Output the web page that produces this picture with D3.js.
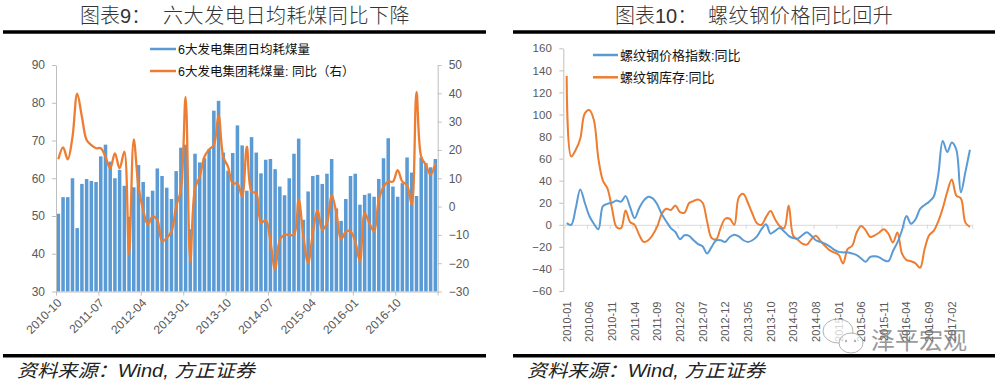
<!DOCTYPE html>
<html><head><meta charset="utf-8">
<script src="https://cdn.jsdelivr.net/npm/d3@7"></script>
<style>
body{margin:0;background:#fff;}
svg{display:block;}
text{font-family:Arial,"Liberation Sans","Noto Sans CJK SC",sans-serif;}
</style></head><body>
<svg id="c" width="996" height="383"></svg>
<script>
// ---------- DATA ----------
// Chart 9: six power groups daily coal consumption (bars, left axis) and YoY (line, right axis)
const leftStart = [2010, 10];
const leftCount = 81;
const coalDaily = [50.6,55.0,55.0,60.0,46.8,58.5,59.8,59.3,59.0,65.8,
  68.9,64.4,60.0,62.2,58.0,49.8,57.6,63.5,59.0,55.1,
  56.7,62.6,60.6,57.5,54.5,61.9,68.1,68.9,46.5,66.5,
  64.2,65.3,67.7,77.9,80.5,66.8,62.0,66.7,74.0,68.7,
  56.7,70.9,66.8,61.3,64.9,65.1,62.4,57.8,55.5,60.0,
  66.5,70.5,49.0,56.5,60.6,60.9,58.5,61.2,65.1,52.0,
  48.7,54.5,60.6,61.2,53.0,55.6,56.0,55.1,59.8,65.3,
  70.6,57.8,55.1,58.7,65.5,61.5,55.3,65.5,64.0,62.9,
  65.1];
const coalYoY = [16.7,20.9,16.7,24.6,39.9,31.7,23.5,21.7,20.6,20.6,
  17.6,13.5,18.8,13.5,19.4,-17.0,23.7,7.0,-1.2,-6.4,
  -3.5,-4.7,-12.3,-11.1,-8.8,0,5.9,38.7,-19.4,6.5,
  10.6,17.6,20.2,21.7,32.3,17.6,14.1,8.2,8.2,3.5,
  21.2,5.3,4.7,-5.8,-4.7,-12.3,-22.3,-11.7,-10,-10,
  -10,2.4,-10.6,-19.9,-9.4,-1.2,-8.2,-5.8,4.1,-2.3,
  -11.7,-8.8,-8.8,-12.3,-19.4,-2.3,-5.8,-8.8,2.4,7.0,
  8.8,8.8,12.9,8.8,7.6,0.6,40.5,17.6,14.7,11.2,
  15.3];
const leftXLabels = ["2010-10","2011-07","2012-04","2013-01","2013-10","2014-07","2015-04","2016-01","2016-10"];
const leftYTicks = [30,40,50,60,70,80,90];
const rightYTicks = [-30,-20,-10,0,10,20,30,40,50];
const leftSeriesNames = ["6大发电集团日均耗煤量","6大发电集团耗煤量: 同比（右）"];

// Chart 10: rebar price index YoY and rebar inventory YoY
const rightStart = [2010, 1];
const rightCount = 90;
const rebarPrice = [1.5,0,15,32,20,8,1,-4,17,19,
  20,22,21,26,16,6,15,22,25.5,24,
  18.5,9.5,3,-3,-6.5,-13,-9.5,-10,-14,-17.5,
  -19.5,-26,-20,-14,-14,-15.5,-11,-9,-10.5,-14,
  -15.5,-14,-10.5,-4,0.5,-8,-5.5,-3,-6,-10,
  -12,-12.5,-9.5,-6.7,-10,-14,-15.5,-17,-19.5,-22.5,
  -24.5,-25,-25,-26,-27.5,-30.5,-33.5,-29,-28.5,-29.5,
  -32,-33,-24,-16,-5,8,1,5,14.5,18,
  21,25.5,45,76,66,74.5,68,29.5,48,68];
const rebarStock = [135,62,68,78,101,104,95,60,40,33,
  15,-2,-3,13,2.5,0,-9,-15.5,-14,-9,
  -1.5,10,14.5,13.5,17.5,11.5,11,19.5,21.5,23,
  20,3,-12,-13,-2.5,5.5,5.5,0,25,28,
  20,10,1.5,0,7,12.5,5,-1,-3,17.5,
  -10,-13.5,-17,-18,-13,-10,-14.5,-19,-23,-25,
  -27,-35,-22,-19,-7,-1,-5,-11,-9.5,-7,
  -4,-8,-16,-7,-26,-32,-33,-35,-39,-22,
  -9.5,-5.5,3,15,30,41,26.5,24,2,-2];
const rightXLabels = ["2010-01","2010-06","2010-11","2011-04","2011-09","2012-02","2012-07","2012-12","2013-05",
  "2013-10","2014-03","2014-08","2015-01","2015-06","2015-11","2016-04","2016-09","2017-02"];
const steelYTicks = [-60,-40,-20,0,20,40,60,80,100,120,140,160];
const steelSeriesNames = ["螺纹钢价格指数:同比","螺纹钢库存:同比"];

const BLUE = "#5B9BD5", ORANGE = "#ED7D31";
const AXIS = "#BFBFBF", LABEL = "#595959";

function monthSeq(start, n){
  const out=[];
  for(let i=0;i<n;i++){
    const k = start[1]-1+i;
    out.push((start[0]+Math.floor(k/12))+"-"+String(k%12+1).padStart(2,"0"));
  }
  return out;
}
const leftCats = monthSeq(leftStart, leftCount);
const rightCats = monthSeq(rightStart, rightCount);

const svg = d3.select("#c");
svg.append("rect").attr("width",996).attr("height",383).attr("fill","#fff");

function styleAxis(g, col){
  g.select(".domain").attr("stroke", col||AXIS);
  g.selectAll(".tick line").attr("stroke", col||AXIS);
  g.selectAll(".tick text").attr("fill", LABEL).attr("font-family","Arial, 'Liberation Sans', sans-serif");
}

// ---------- Headers / footers ----------
const serif = "'Noto Serif CJK SC','Noto Sans CJK SC',serif";
function header(x0, x1, lab, labX, main, mainX){
  svg.append("text").attr("x",labX).attr("y",23).attr("font-size",20).attr("font-family",serif).attr("font-weight",300).attr("fill","#333").text(lab);
  svg.append("text").attr("x",mainX).attr("y",23).attr("font-size",20).attr("font-family",serif).attr("font-weight",300).attr("fill","#333")
     .attr("letter-spacing","0.6px").text(main);
  svg.append("line").attr("x1",x0).attr("x2",x1).attr("y1",32).attr("y2",32).attr("stroke","#000").attr("stroke-width",3.5);
  svg.append("line").attr("x1",x0).attr("x2",x1).attr("y1",355.7).attr("y2",355.7).attr("stroke","#000").attr("stroke-width",3.5);
}
header(3,486,"图表9：",80,"六大发电日均耗煤同比下降",163);
header(513,995,"图表10：",615,"螺纹钢价格同比回升",708);
function source(x){
  svg.append("text").attr("x",x).attr("y",377).attr("font-size",18).attr("font-style","italic")
    .attr("font-family","'Noto Sans CJK SC','DejaVu Sans Mono',monospace").attr("fill","#222")
    .attr("textLength",238).attr("lengthAdjust","spacingAndGlyphs")
    .text("资料来源：Wind, 方正证券");
}
source(17); source(527);

// ---------- Left chart ----------
const xL = d3.scaleBand().domain(d3.range(leftCount)).range([56,437.7]).paddingInner(0.25).paddingOuter(0.125);
const xLb = d3.scaleLinear().domain([0,leftCount]).range([56,437.7]);
const yL = d3.scaleLinear().domain([30,90]).range([291.5,65]);
const yR = d3.scaleLinear().domain([-30,50]).range([291.5,65]);

const gLc = svg.append("g");
gLc.selectAll("rect.bar").data(coalDaily).join("rect")
  .attr("x",(d,i)=>xL(i)).attr("width",xL.bandwidth())
  .attr("y",d=>yL(d)).attr("height",d=>yL(30)-yL(d)).attr("fill",BLUE);

const lineL = d3.line().x((d,i)=>xL(i)+xL.bandwidth()/2).y(d=>yR(d)).curve(d3.curveCatmullRom.alpha(0.5));
gLc.append("path").attr("d",lineL(coalYoY)).attr("fill","none").attr("stroke",ORANGE).attr("stroke-width",2.3);

const axL = gLc.append("g").attr("transform","translate(56,0)")
  .call(d3.axisLeft(yL).tickValues(leftYTicks).tickSize(4).tickSizeOuter(0).tickPadding(7));
axL.selectAll("text").attr("font-size",12);
styleAxis(axL);
const axR = gLc.append("g").attr("transform","translate(437.7,0)")
  .call(d3.axisRight(yR).tickValues(rightYTicks).tickSize(4).tickSizeOuter(0).tickPadding(7));
axR.selectAll("text").attr("font-size",12);
styleAxis(axR);
const leftTickIdx = leftXLabels.map(l=>leftCats.indexOf(l));
const axB = gLc.append("g").attr("transform","translate(0,291.5)")
  .call(d3.axisBottom(xLb).tickValues(leftTickIdx.concat([leftCount])).tickSize(4).tickSizeOuter(0).tickFormat(""));
styleAxis(axB);
gLc.selectAll("text.xl").data(leftTickIdx).join("text")
  .attr("transform",i=>`translate(${xL(i)+xL.bandwidth()/2+4},${303.5}) rotate(-45)`)
  .attr("text-anchor","end").attr("font-size",12).attr("fill",LABEL)
  .text(i=>leftCats[i]);

// legend left
[[BLUE,49],[ORANGE,71]].forEach((c,k)=>{
  gLc.append("line").attr("x1",150).attr("x2",176).attr("y1",c[1]).attr("y2",c[1]).attr("stroke",c[0]).attr("stroke-width",2.5);
  gLc.append("text").attr("x",178).attr("y",c[1]+4.5).attr("font-size",12.5).attr("fill","#111").text(leftSeriesNames[k]);
});

// ---------- Right chart ----------
const xS = d3.scalePoint().domain(d3.range(rightCount)).range([564.4,972.2]).padding(0.5);
const xSb = d3.scaleLinear().domain([0,rightCount]).range([564.4,972.2]);
const yS = d3.scaleLinear().domain([-60,160]).range([291,48.3]);
const gR = svg.append("g");
const axS = gR.append("g").attr("transform","translate(563.3,0)")
  .call(d3.axisLeft(yS).tickValues(steelYTicks).tickSize(4).tickSizeOuter(0).tickPadding(7.5));
axS.selectAll("text").attr("font-size",11.5);
styleAxis(axS);
const rightTickIdx = rightXLabels.map(l=>rightCats.indexOf(l));
const axS0 = gR.append("g").attr("transform",`translate(0,${yS(0)})`)
  .call(d3.axisBottom(xSb).tickValues(rightTickIdx.concat([rightCount])).tickSize(4).tickSizeOuter(0).tickFormat(""));
styleAxis(axS0, "#D9D9D9");
gR.selectAll("text.xr").data(rightTickIdx).join("text")
  .attr("transform",i=>`translate(${xS(i)+4},301.5) rotate(-90)`)
  .attr("text-anchor","end").attr("font-size",11).attr("fill",LABEL)
  .text(i=>rightCats[i]);
const lineS = d3.line().x((d,i)=>xS(i)).y(d=>yS(d)).curve(d3.curveCatmullRom.alpha(0.5));
gR.append("path").attr("d",lineS(rebarStock)).attr("fill","none").attr("stroke",ORANGE).attr("stroke-width",2);
gR.append("path").attr("d",lineS(rebarPrice)).attr("fill","none").attr("stroke",BLUE).attr("stroke-width",2);
[[BLUE,55],[ORANGE,77.3]].forEach((c,k)=>{
  gR.append("line").attr("x1",593).attr("x2",618).attr("y1",c[1]).attr("y2",c[1]).attr("stroke",c[0]).attr("stroke-width",2.5);
  gR.append("text").attr("x",620).attr("y",c[1]+4.5).attr("font-size",13).attr("fill","#111").text(steelSeriesNames[k]);
});

// ---------- watermark ----------
const wm = svg.append("g").attr("opacity",0.75);
wm.append("ellipse").attr("cx",838).attr("cy",331).attr("rx",15).attr("ry",12).attr("fill","#fff").attr("stroke","#999").attr("stroke-width",1);
wm.append("ellipse").attr("cx",851).attr("cy",343).attr("rx",12).attr("ry",10).attr("fill","#fff").attr("stroke","#999").attr("stroke-width",1);
[[846,341],[855,341]].forEach(p=>wm.append("circle").attr("cx",p[0]).attr("cy",p[1]).attr("r",1.2).attr("fill","#999"));
wm.append("text").attr("x",871).attr("y",349).attr("font-size",24).attr("fill","#777")
  .attr("font-family","'Noto Sans CJK SC',sans-serif").text("泽平宏观");
</script>
</body></html>
